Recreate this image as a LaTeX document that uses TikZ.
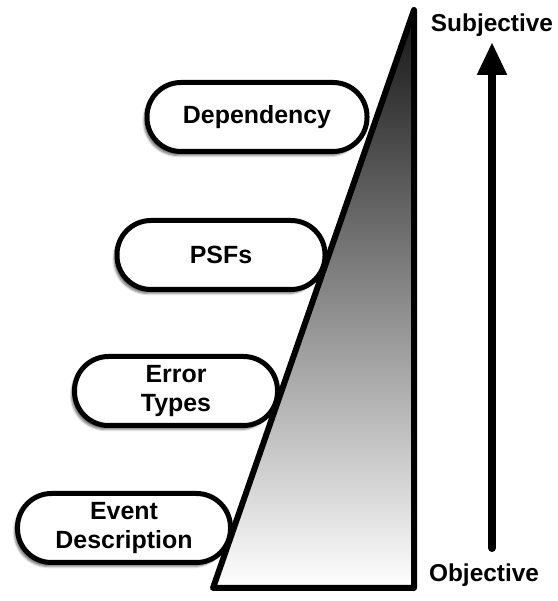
\documentclass[tikz,border=0pt]{standalone}
\usepackage{fontspec}
\setmainfont{Liberation Sans}
\usetikzlibrary{arrows.meta, shadows.blur}

\begin{document}
\begin{tikzpicture}[
    x=1bp, y=1bp,
    stage/.style={rectangle, draw=black, line width=5bp, fill=white,
                  rounded corners=34bp, minimum height=69bp, align=center,
                  inner sep=0pt, font=\fontsize{25}{29}\selectfont\bfseries,
                  blur shadow={shadow xshift=-3bp, shadow yshift=-4bp, shadow opacity=55}},
    poleword/.style={font=\fontsize{24.5}{28}\selectfont\bfseries, inner sep=0pt}
]
    \useasboundingbox (0,0) rectangle (558,601);

    % the wedge, darker towards the subjective end
    \draw[line width=6bp, line join=round,
          top color=black!92, middle color=black!50, bottom color=white]
        (213,13) -- (414,13) -- (414,591) -- cycle;

    \node[stage, minimum width=220bp] (dep) at (257,484) {Dependency};
    \node[stage, minimum width=208bp] (psf) at (221,346) {PSFs};
    \node[stage, minimum width=203bp] (err) at (176,210) {Error\\Types};
    \node[stage, minimum width=213bp] (evt) at (124,73) {Event\\Description};

    \node[poleword] (subj) at (492,576) {Subjective};
    \node[poleword] (obj) at (484,26) {Objective};

    \coordinate (low) at (492,53);
    \coordinate (high) at (492,559);
    \draw[line width=8bp, line cap=round, -{Triangle[length=33bp, width=28bp]}] (low) -- (high);
\end{tikzpicture}
\end{document}
